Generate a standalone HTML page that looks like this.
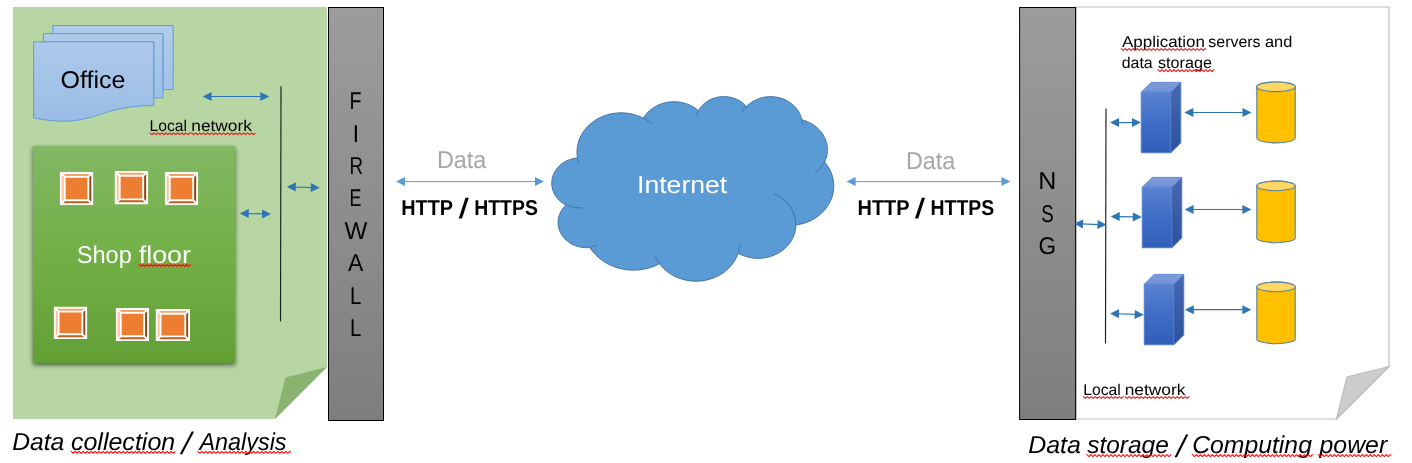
<!DOCTYPE html>
<html lang="en"><head><meta charset="utf-8"><title>Architecture diagram</title>
<style>
html,body{margin:0;padding:0;background:#fff;}
body{width:1412px;height:463px;overflow:hidden;}
svg{display:block;font-family:"Liberation Sans",sans-serif;will-change:transform;}
svg text{text-rendering:geometricPrecision;}
</style></head><body>
<svg width="1412" height="463" viewBox="0 0 1412 463">

<defs>
<linearGradient id="gFire" x1="0" y1="0" x2="0" y2="1"><stop offset="0" stop-color="#9c9c9c"/><stop offset="1" stop-color="#7e7e7e"/></linearGradient>
<linearGradient id="gShop" x1="0" y1="0" x2="0" y2="1"><stop offset="0" stop-color="#82b864"/><stop offset="0.5" stop-color="#72b046"/><stop offset="1" stop-color="#62a035"/></linearGradient>
<linearGradient id="gDoc" gradientUnits="userSpaceOnUse" x1="0" y1="25" x2="0" y2="122"><stop offset="0" stop-color="#b1cbea"/><stop offset="0.5" stop-color="#a6c4e8"/><stop offset="1" stop-color="#9abce4"/></linearGradient>
<linearGradient id="gCubeF" x1="0" y1="0" x2="0" y2="1"><stop offset="0" stop-color="#5a82d0"/><stop offset="0.5" stop-color="#3f6dc6"/><stop offset="1" stop-color="#3160b9"/></linearGradient>
<linearGradient id="gCubeS" x1="0" y1="0" x2="0" y2="1"><stop offset="0" stop-color="#4868b0"/><stop offset="1" stop-color="#2c519f"/></linearGradient>
<linearGradient id="gCubeT" x1="0" y1="0" x2="0" y2="1"><stop offset="0" stop-color="#7e9cdb"/><stop offset="1" stop-color="#7092d6"/></linearGradient>
<filter id="sh" x="-10%" y="-10%" width="120%" height="120%"><feGaussianBlur in="SourceAlpha" stdDeviation="2.6"/><feOffset dx="0" dy="2.2"/><feComponentTransfer><feFuncA type="linear" slope="0.6"/></feComponentTransfer><feMerge><feMergeNode/><feMergeNode in="SourceGraphic"/></feMerge></filter>
</defs>

<path d="M13,7 L327,7 L327,367 L275,419 L13,419 Z" fill="#b8d6a3"/>
<path d="M275,419 L285.4,377.4 L327,367 Z" fill="#89b36f"/>
<g fill="url(#gDoc)" stroke="#5f9cd7" stroke-width="1" stroke-linejoin="miter">
<path d="M52.81,33.57 L52.81,25.50 L173.20,25.50 L173.20,89.46 C168.03,89.46 162.86,89.80 162.86,89.80 L162.86,33.57 Z"/>
<path d="M43.50,41.83 L43.50,33.57 L162.86,33.57 L162.86,97.73 C158.32,97.73 153.78,98.18 153.78,98.18 L153.78,41.83 Z"/>
<path d="M33.60,117.86 C93.69,130.13 93.69,105.60 153.78,105.60 L153.78,41.83 L33.60,41.83 Z"/>
</g>
<text x="60.51" y="88.0" font-size="24.3" fill="#000" textLength="65.0" lengthAdjust="spacingAndGlyphs">Office</text>
<line x1="209.80" y1="96.50" x2="262.10" y2="96.50" stroke="#2e75b6" stroke-width="1.2"/>
<path d="M202.60,96.50 L211.60,101.00 L211.60,92.00 Z" fill="#2e75b6"/>
<path d="M269.30,96.50 L260.30,101.00 L260.30,92.00 Z" fill="#2e75b6"/>
<line x1="281" y1="86.3" x2="280.5" y2="321.5" stroke="#1c1c1c" stroke-width="1.15"/>
<text y="130.7" font-size="15.7" fill="#000"><tspan x="149.62" textLength="37.43" lengthAdjust="spacingAndGlyphs">Local</tspan> <tspan x="191.35" textLength="60.52" lengthAdjust="spacingAndGlyphs">network</tspan></text>
<path d="M149.90,132.80 L151.90,134.70 L153.90,132.80 L155.90,134.70 L157.90,132.80 L159.90,134.70 L161.90,132.80 L163.90,134.70 L165.90,132.80 L167.90,134.70 L169.90,132.80 L171.90,134.70 L173.90,132.80 L175.90,134.70 L177.90,132.80 L179.90,134.70 L181.90,132.80 L183.90,134.70 L185.90,132.80 L187.90,134.70 L189.90,132.80 L190.30,133.18" fill="none" stroke="#ff0a0a" stroke-width="1.05" stroke-linejoin="round" stroke-linecap="round"/>
<path d="M191.60,132.80 L193.60,134.70 L195.60,132.80 L197.60,134.70 L199.60,132.80 L201.60,134.70 L203.60,132.80 L205.60,134.70 L207.60,132.80 L209.60,134.70 L211.60,132.80 L213.60,134.70 L215.60,132.80 L217.60,134.70 L219.60,132.80 L221.60,134.70 L223.60,132.80 L225.60,134.70 L227.60,132.80 L229.60,134.70 L231.60,132.80 L233.60,134.70 L235.60,132.80 L237.60,134.70 L239.60,132.80 L241.60,134.70 L243.60,132.80 L245.60,134.70 L247.60,132.80 L249.60,134.70 L251.60,132.80 L253.60,134.70 L255.10,133.28" fill="none" stroke="#ff0a0a" stroke-width="1.05" stroke-linejoin="round" stroke-linecap="round"/>
<rect x="33" y="146" width="202" height="217" fill="url(#gShop)" filter="url(#sh)"/>
<g>
<path d="M60.85,172.95 L92.25,172.95 L88.35,176.85 L64.75,176.85 Z" fill="#f3a36c"/>
<path d="M60.85,172.95 L64.75,176.85 L64.75,200.25 L60.85,204.15 Z" fill="#f7c19c"/>
<path d="M92.25,172.95 L92.25,204.15 L88.35,200.25 L88.35,176.85 Z" fill="#8c4916"/>
<path d="M60.85,204.15 L64.75,200.25 L88.35,200.25 L92.25,204.15 Z" fill="#bc5e1c"/>
<path d="M64.75,176.85 H88.35 V200.25 H64.75 Z" fill="#ed7d31"/>
<path d="M60.85,172.95 H92.25 V204.15 H60.85 Z M64.75,176.85 H88.35 V200.25 H64.75 Z M60.85,172.95 L64.75,176.85 M92.25,172.95 L88.35,176.85 M60.85,204.15 L64.75,200.25 M92.25,204.15 L88.35,200.25" stroke="#fff" stroke-width="1.9" fill="none" stroke-linejoin="miter"/>
</g>
<g>
<path d="M115.75,171.85 L147.10,171.85 L143.18,175.77 L119.67,175.77 Z" fill="#f3a36c"/>
<path d="M115.75,171.85 L119.67,175.77 L119.67,199.38 L115.75,203.30 Z" fill="#f7c19c"/>
<path d="M147.10,171.85 L147.10,203.30 L143.18,199.38 L143.18,175.77 Z" fill="#8c4916"/>
<path d="M115.75,203.30 L119.67,199.38 L143.18,199.38 L147.10,203.30 Z" fill="#bc5e1c"/>
<path d="M119.67,175.77 H143.18 V199.38 H119.67 Z" fill="#ed7d31"/>
<path d="M115.75,171.85 H147.10 V203.30 H115.75 Z M119.67,175.77 H143.18 V199.38 H119.67 Z M115.75,171.85 L119.67,175.77 M147.10,171.85 L143.18,175.77 M115.75,203.30 L119.67,199.38 M147.10,203.30 L143.18,199.38" stroke="#fff" stroke-width="1.9" fill="none" stroke-linejoin="miter"/>
</g>
<g>
<path d="M165.85,172.95 L197.10,172.95 L193.20,176.85 L169.75,176.85 Z" fill="#f3a36c"/>
<path d="M165.85,172.95 L169.75,176.85 L169.75,200.25 L165.85,204.15 Z" fill="#f7c19c"/>
<path d="M197.10,172.95 L197.10,204.15 L193.20,200.25 L193.20,176.85 Z" fill="#8c4916"/>
<path d="M165.85,204.15 L169.75,200.25 L193.20,200.25 L197.10,204.15 Z" fill="#bc5e1c"/>
<path d="M169.75,176.85 H193.20 V200.25 H169.75 Z" fill="#ed7d31"/>
<path d="M165.85,172.95 H197.10 V204.15 H165.85 Z M169.75,176.85 H193.20 V200.25 H169.75 Z M165.85,172.95 L169.75,176.85 M197.10,172.95 L193.20,176.85 M165.85,204.15 L169.75,200.25 M197.10,204.15 L193.20,200.25" stroke="#fff" stroke-width="1.9" fill="none" stroke-linejoin="miter"/>
</g>
<g>
<path d="M54.80,307.80 L86.20,307.80 L82.41,311.59 L58.59,311.59 Z" fill="#f3a36c"/>
<path d="M54.80,307.80 L58.59,311.59 L58.59,334.31 L54.80,338.10 Z" fill="#f7c19c"/>
<path d="M86.20,307.80 L86.20,338.10 L82.41,334.31 L82.41,311.59 Z" fill="#8c4916"/>
<path d="M54.80,338.10 L58.59,334.31 L82.41,334.31 L86.20,338.10 Z" fill="#bc5e1c"/>
<path d="M58.59,311.59 H82.41 V334.31 H58.59 Z" fill="#ed7d31"/>
<path d="M54.80,307.80 H86.20 V338.10 H54.80 Z M58.59,311.59 H82.41 V334.31 H58.59 Z M54.80,307.80 L58.59,311.59 M86.20,307.80 L82.41,311.59 M54.80,338.10 L58.59,334.31 M86.20,338.10 L82.41,334.31" stroke="#fff" stroke-width="1.9" fill="none" stroke-linejoin="miter"/>
</g>
<g>
<path d="M116.85,308.95 L148.05,308.95 L144.15,312.85 L120.75,312.85 Z" fill="#f3a36c"/>
<path d="M116.85,308.95 L120.75,312.85 L120.75,336.25 L116.85,340.15 Z" fill="#f7c19c"/>
<path d="M148.05,308.95 L148.05,340.15 L144.15,336.25 L144.15,312.85 Z" fill="#8c4916"/>
<path d="M116.85,340.15 L120.75,336.25 L144.15,336.25 L148.05,340.15 Z" fill="#bc5e1c"/>
<path d="M120.75,312.85 H144.15 V336.25 H120.75 Z" fill="#ed7d31"/>
<path d="M116.85,308.95 H148.05 V340.15 H116.85 Z M120.75,312.85 H144.15 V336.25 H120.75 Z M116.85,308.95 L120.75,312.85 M148.05,308.95 L144.15,312.85 M116.85,340.15 L120.75,336.25 M148.05,340.15 L144.15,336.25" stroke="#fff" stroke-width="1.9" fill="none" stroke-linejoin="miter"/>
</g>
<g>
<path d="M156.75,309.95 L189.05,309.95 L185.28,313.72 L160.53,313.72 Z" fill="#f3a36c"/>
<path d="M156.75,309.95 L160.53,313.72 L160.53,336.38 L156.75,340.15 Z" fill="#f7c19c"/>
<path d="M189.05,309.95 L189.05,340.15 L185.28,336.38 L185.28,313.72 Z" fill="#8c4916"/>
<path d="M156.75,340.15 L160.53,336.38 L185.28,336.38 L189.05,340.15 Z" fill="#bc5e1c"/>
<path d="M160.53,313.72 H185.28 V336.38 H160.53 Z" fill="#ed7d31"/>
<path d="M156.75,309.95 H189.05 V340.15 H156.75 Z M160.53,313.72 H185.28 V336.38 H160.53 Z M156.75,309.95 L160.53,313.72 M189.05,309.95 L185.28,313.72 M156.75,340.15 L160.53,336.38 M189.05,340.15 L185.28,336.38" stroke="#fff" stroke-width="1.9" fill="none" stroke-linejoin="miter"/>
</g>
<text y="262.6" font-size="24.3" fill="#fff"><tspan x="76.76" textLength="55.03" lengthAdjust="spacingAndGlyphs">Shop</tspan> <tspan x="138.68" textLength="52.37" lengthAdjust="spacingAndGlyphs">floor</tspan></text>
<path d="M138.60,264.45 L140.60,266.35 L142.60,264.45 L144.60,266.35 L146.60,264.45 L148.60,266.35 L150.60,264.45 L152.60,266.35 L154.60,264.45 L156.60,266.35 L158.60,264.45 L160.60,266.35 L162.60,264.45 L164.60,266.35 L166.60,264.45 L168.60,266.35 L170.60,264.45 L172.60,266.35 L174.60,264.45 L176.60,266.35 L178.60,264.45 L180.60,266.35 L182.60,264.45 L184.60,266.35 L186.60,264.45 L188.60,266.35 L190.60,264.45" fill="none" stroke="#ff0a0a" stroke-width="1.05" stroke-linejoin="round" stroke-linecap="round"/>
<line x1="247.00" y1="213.56" x2="263.80" y2="213.94" stroke="#2e75b6" stroke-width="1.2"/>
<path d="M239.80,213.40 L248.70,218.10 L248.90,209.10 Z" fill="#2e75b6"/>
<path d="M271.00,214.10 L261.90,218.40 L262.10,209.40 Z" fill="#2e75b6"/>
<line x1="294.00" y1="187.02" x2="312.60" y2="187.58" stroke="#2e75b6" stroke-width="1.2"/>
<path d="M286.80,186.80 L295.66,191.57 L295.93,182.57 Z" fill="#2e75b6"/>
<path d="M319.80,187.80 L310.67,192.03 L310.94,183.03 Z" fill="#2e75b6"/>
<rect x="328.5" y="7.5" width="55" height="413" fill="url(#gFire)" stroke="#000" stroke-width="1"/>
<text x="349.39" y="109.3" font-size="24.3" fill="#000" textLength="12.0" lengthAdjust="spacingAndGlyphs">F</text>
<text x="352.87" y="141.7" font-size="24.3" fill="#000" textLength="6.26" lengthAdjust="spacingAndGlyphs">I</text>
<text x="349.47" y="174.1" font-size="24.3" fill="#000" textLength="13.5" lengthAdjust="spacingAndGlyphs">R</text>
<text x="349.53" y="206.4" font-size="24.3" fill="#000" textLength="11.94" lengthAdjust="spacingAndGlyphs">E</text>
<text x="344.49" y="239.0" font-size="24.3" fill="#000" textLength="22.89" lengthAdjust="spacingAndGlyphs">W</text>
<text x="348.06" y="271.3" font-size="24.3" fill="#000" textLength="15.29" lengthAdjust="spacingAndGlyphs">A</text>
<text x="349.93" y="303.8" font-size="24.3" fill="#000" textLength="11.35" lengthAdjust="spacingAndGlyphs">L</text>
<text x="349.93" y="336.1" font-size="24.3" fill="#000" textLength="11.35" lengthAdjust="spacingAndGlyphs">L</text>
<text x="436.98" y="167.95" font-size="24.4" fill="#a6a6a6" textLength="49.42" lengthAdjust="spacingAndGlyphs">Data</text>
<line x1="403.20" y1="181.60" x2="536.80" y2="181.60" stroke="#5b9bd5" stroke-width="1.0"/>
<path d="M396.00,181.60 L405.00,186.10 L405.00,177.10 Z" fill="#5b9bd5"/>
<path d="M544.00,181.60 L535.00,186.10 L535.00,177.10 Z" fill="#5b9bd5"/>
<text x="401.27" y="214.8" font-size="21.5" fill="#000" font-weight="bold" textLength="51.81" lengthAdjust="spacingAndGlyphs">HTTP</text>
<text transform="translate(458.40,218.14) skewX(-7.63)" font-size="28.07" fill="#000" font-weight="bold">/</text>
<text x="474.2" y="214.8" font-size="21.5" fill="#000" font-weight="bold" textLength="63.66" lengthAdjust="spacingAndGlyphs">HTTPS</text>
<path d="M577.42,157.37 L577.16,155.19 L577.03,153.00 L577.04,150.81 L577.19,148.62 L577.48,146.44 L577.90,144.28 L578.46,142.14 L579.15,140.03 L579.97,137.97 L580.91,135.94 L581.99,133.97 L583.18,132.05 L584.50,130.20 L585.93,128.41 L587.47,126.70 L589.11,125.07 L590.85,123.52 L592.69,122.06 L594.61,120.69 L596.62,119.42 L598.71,118.26 L600.86,117.20 L603.08,116.25 L605.35,115.41 L607.67,114.69 L610.04,114.08 L612.44,113.59 L614.86,113.22 L617.31,112.97 L619.76,112.85 L622.22,112.85 L624.68,112.97 L627.13,113.21 L629.55,113.57 L631.95,114.06 L634.32,114.66 L636.64,115.38 L638.92,116.21 L641.14,117.16 L643.29,118.22 L644.08,116.96 L644.94,115.73 L645.86,114.55 L646.84,113.40 L647.88,112.29 L648.97,111.23 L650.12,110.22 L651.32,109.25 L652.57,108.33 L653.87,107.47 L655.20,106.66 L656.58,105.91 L658.00,105.22 L659.45,104.59 L660.94,104.01 L662.45,103.50 L663.99,103.05 L665.54,102.67 L667.12,102.35 L668.71,102.10 L670.32,101.91 L671.93,101.80 L673.54,101.74 L675.16,101.76 L676.77,101.84 L678.38,101.99 L679.98,102.20 L681.56,102.48 L683.13,102.83 L684.68,103.24 L686.21,103.72 L687.71,104.26 L689.18,104.86 L690.61,105.52 L692.02,106.24 L693.38,107.01 L694.70,107.85 L695.97,108.73 L697.20,109.67 L698.38,110.66 L699.06,109.52 L699.80,108.42 L700.60,107.35 L701.46,106.32 L702.38,105.32 L703.35,104.37 L704.38,103.47 L705.45,102.61 L706.58,101.81 L707.75,101.05 L708.96,100.35 L710.20,99.71 L711.49,99.12 L712.80,98.59 L714.14,98.12 L715.51,97.71 L716.90,97.37 L718.31,97.09 L719.73,96.87 L721.16,96.71 L722.60,96.63 L724.04,96.60 L725.48,96.64 L726.92,96.75 L728.35,96.92 L729.76,97.16 L731.17,97.46 L732.55,97.82 L733.91,98.24 L735.25,98.73 L736.55,99.28 L737.83,99.88 L739.06,100.54 L740.26,101.26 L741.42,102.03 L742.53,102.85 L743.59,103.71 L744.60,104.63 L745.56,105.59 L746.47,106.60 L747.66,105.41 L748.93,104.29 L750.27,103.23 L751.67,102.24 L753.13,101.33 L754.65,100.49 L756.22,99.72 L757.83,99.04 L759.49,98.44 L761.18,97.92 L762.90,97.49 L764.65,97.15 L766.42,96.89 L768.20,96.72 L769.98,96.65 L771.77,96.66 L773.56,96.76 L775.33,96.96 L777.09,97.24 L778.83,97.61 L780.55,98.06 L782.23,98.60 L783.87,99.23 L785.48,99.94 L787.03,100.72 L788.53,101.58 L789.98,102.52 L791.36,103.53 L792.68,104.61 L793.93,105.75 L795.10,106.95 L796.20,108.21 L797.21,109.52 L798.14,110.88 L798.98,112.28 L799.73,113.73 L800.38,115.21 L800.95,116.72 L801.41,118.26 L801.78,119.81 L803.20,120.19 L804.61,120.62 L805.99,121.10 L807.35,121.64 L808.68,122.23 L809.99,122.87 L811.26,123.55 L812.50,124.29 L813.70,125.07 L814.86,125.89 L815.98,126.77 L817.06,127.68 L818.10,128.63 L819.09,129.62 L820.03,130.65 L820.92,131.71 L821.76,132.81 L822.54,133.94 L823.27,135.09 L823.95,136.28 L824.56,137.48 L825.12,138.71 L825.62,139.96 L826.06,141.23 L826.44,142.52 L826.76,143.81 L827.01,145.12 L827.20,146.44 L827.33,147.76 L827.40,149.09 L827.40,150.42 L827.34,151.74 L827.21,153.07 L827.02,154.38 L826.77,155.69 L826.46,156.99 L826.08,158.27 L825.65,159.54 L825.15,160.79 L824.59,162.03 L825.95,163.68 L827.20,165.40 L828.35,167.18 L829.40,169.01 L830.34,170.88 L831.17,172.79 L831.88,174.74 L832.49,176.72 L832.97,178.72 L833.34,180.75 L833.58,182.79 L833.71,184.84 L833.72,186.89 L833.61,188.94 L833.38,190.98 L833.03,193.00 L832.56,195.01 L831.98,197.00 L831.28,198.95 L830.47,200.87 L829.54,202.75 L828.51,204.58 L827.38,206.36 L826.14,208.09 L824.80,209.76 L823.36,211.36 L821.84,212.90 L820.22,214.36 L818.53,215.74 L816.75,217.05 L814.90,218.27 L812.98,219.40 L811.00,220.44 L808.96,221.39 L806.87,222.24 L804.73,223.00 L802.55,223.65 L800.33,224.20 L798.09,224.65 L795.82,224.99 L795.75,226.77 L795.58,228.55 L795.30,230.31 L794.91,232.06 L794.42,233.79 L793.83,235.49 L793.14,237.16 L792.35,238.80 L791.47,240.39 L790.49,241.95 L789.42,243.45 L788.26,244.90 L787.02,246.30 L785.70,247.63 L784.29,248.90 L782.82,250.11 L781.27,251.24 L779.67,252.29 L778.00,253.27 L776.27,254.17 L774.49,254.99 L772.67,255.72 L770.80,256.36 L768.90,256.92 L766.97,257.38 L765.02,257.75 L763.05,258.03 L761.06,258.22 L759.06,258.31 L757.06,258.31 L755.07,258.21 L753.08,258.02 L751.10,257.74 L749.15,257.36 L747.22,256.89 L745.32,256.33 L743.46,255.68 L741.64,254.95 L739.87,254.13 L738.14,253.22 L737.36,255.33 L736.44,257.39 L735.39,259.41 L734.22,261.37 L732.92,263.26 L731.51,265.09 L729.99,266.85 L728.35,268.52 L726.62,270.11 L724.78,271.61 L722.86,273.01 L720.84,274.32 L718.75,275.52 L716.59,276.61 L714.36,277.59 L712.08,278.46 L709.74,279.21 L707.36,279.85 L704.94,280.36 L702.49,280.75 L700.03,281.01 L697.55,281.15 L695.06,281.17 L692.58,281.05 L690.11,280.82 L687.66,280.46 L685.23,279.97 L682.84,279.37 L680.49,278.64 L678.19,277.80 L675.95,276.85 L673.77,275.78 L671.67,274.60 L669.64,273.32 L667.69,271.94 L665.83,270.46 L664.08,268.89 L662.42,267.24 L660.87,265.50 L659.43,263.69 L657.69,264.58 L655.92,265.41 L654.11,266.18 L652.26,266.88 L650.39,267.51 L648.49,268.08 L646.57,268.58 L644.63,269.01 L642.67,269.37 L640.69,269.66 L638.70,269.89 L636.71,270.04 L634.71,270.11 L632.70,270.12 L630.70,270.06 L628.71,269.92 L626.72,269.72 L624.74,269.44 L622.78,269.09 L620.83,268.68 L618.90,268.19 L617.00,267.64 L615.12,267.01 L613.27,266.33 L611.45,265.57 L609.67,264.76 L607.93,263.88 L606.22,262.94 L604.56,261.94 L602.95,260.88 L601.38,259.76 L599.86,258.59 L598.40,257.37 L597.00,256.09 L595.65,254.77 L594.36,253.40 L593.13,251.98 L591.97,250.52 L590.87,249.02 L589.84,247.49 L588.11,247.62 L586.38,247.66 L584.65,247.60 L582.92,247.45 L581.21,247.21 L579.52,246.88 L577.85,246.45 L576.22,245.94 L574.62,245.34 L573.07,244.65 L571.57,243.88 L570.13,243.03 L568.74,242.10 L567.42,241.10 L566.18,240.03 L565.00,238.89 L563.91,237.69 L562.90,236.44 L561.99,235.13 L561.16,233.78 L560.42,232.38 L559.79,230.95 L559.25,229.48 L558.81,227.99 L558.48,226.48 L558.25,224.95 L558.13,223.41 L558.11,221.87 L558.20,220.33 L558.39,218.80 L558.69,217.28 L559.09,215.78 L559.60,214.31 L560.20,212.86 L560.90,211.45 L561.70,210.08 L562.59,208.76 L563.57,207.49 L564.63,206.27 L565.78,205.11 L564.27,204.26 L562.83,203.33 L561.46,202.33 L560.16,201.24 L558.94,200.09 L557.80,198.86 L556.74,197.58 L555.79,196.24 L554.92,194.85 L554.16,193.41 L553.49,191.93 L552.94,190.42 L552.48,188.88 L552.14,187.32 L551.91,185.74 L551.79,184.15 L551.78,182.56 L551.88,180.97 L552.09,179.39 L552.41,177.82 L552.84,176.28 L553.38,174.76 L554.02,173.28 L554.77,171.83 L555.61,170.43 L556.55,169.08 L557.59,167.78 L558.71,166.55 L559.92,165.38 L561.20,164.28 L562.56,163.26 L563.99,162.31 L565.48,161.45 L567.03,160.67 L568.63,159.98 L570.28,159.38 L571.97,158.88 L573.68,158.47 L575.42,158.16 L577.19,157.95 Z" fill="#5b9bd5" stroke="#3d6d9e" stroke-width="0.95" stroke-linejoin="round"/>
<path d="M582.59,207.80 L581.16,207.86 L579.73,207.87 L578.29,207.80 L576.87,207.68 L575.45,207.48 L574.04,207.23 L572.66,206.91 L571.29,206.53 L569.94,206.08 L568.62,205.58 L567.33,205.01 L566.08,204.39" fill="none" stroke="#3d6d9e" stroke-width="0.95"/>
<path d="M597.16,245.05 L596.58,245.25 L595.99,245.44 L595.40,245.61 L594.81,245.78 L594.21,245.93 L593.61,246.07 L593.00,246.20 L592.39,246.32 L591.78,246.43 L591.17,246.52 L590.55,246.61 L589.94,246.68" fill="none" stroke="#3d6d9e" stroke-width="0.95"/>
<path d="M659.41,262.95 L658.98,262.36 L658.56,261.77 L658.16,261.17 L657.77,260.56 L657.38,259.95 L657.01,259.34 L656.66,258.71 L656.31,258.08 L655.98,257.45 L655.66,256.81 L655.35,256.16 L655.06,255.52" fill="none" stroke="#3d6d9e" stroke-width="0.95"/>
<path d="M739.91,244.42 L739.84,245.11 L739.75,245.79 L739.66,246.48 L739.54,247.17 L739.42,247.85 L739.28,248.53 L739.13,249.21 L738.96,249.89 L738.79,250.57 L738.59,251.24 L738.39,251.90 L738.17,252.57" fill="none" stroke="#3d6d9e" stroke-width="0.95"/>
<path d="M774.47,194.03 L777.57,195.54 L780.50,197.31 L783.23,199.31 L785.74,201.53 L788.01,203.94 L790.01,206.54 L791.73,209.29 L793.15,212.18 L794.27,215.17 L795.06,218.24 L795.53,221.36 L795.66,224.51" fill="none" stroke="#3d6d9e" stroke-width="0.95"/>
<path d="M824.46,161.57 L823.91,162.66 L823.31,163.73 L822.67,164.78 L821.99,165.80 L821.26,166.80 L820.48,167.78 L819.67,168.72 L818.82,169.64 L817.92,170.53 L816.99,171.39 L816.03,172.21 L815.02,173.00" fill="none" stroke="#3d6d9e" stroke-width="0.95"/>
<path d="M801.82,119.17 L801.90,119.62 L801.98,120.07 L802.05,120.51 L802.11,120.96 L802.17,121.41 L802.21,121.86 L802.25,122.31 L802.28,122.76 L802.30,123.21 L802.31,123.67 L802.32,124.12 L802.31,124.57" fill="none" stroke="#3d6d9e" stroke-width="0.95"/>
<path d="M741.55,112.88 L741.86,112.26 L742.19,111.65 L742.54,111.05 L742.91,110.45 L743.29,109.86 L743.68,109.28 L744.09,108.71 L744.52,108.15 L744.96,107.60 L745.42,107.05 L745.89,106.52 L746.38,106.00" fill="none" stroke="#3d6d9e" stroke-width="0.95"/>
<path d="M696.33,116.16 L696.46,115.65 L696.60,115.14 L696.76,114.63 L696.92,114.12 L697.10,113.62 L697.29,113.13 L697.49,112.63 L697.70,112.14 L697.93,111.65 L698.16,111.17 L698.41,110.70 L698.67,110.22" fill="none" stroke="#3d6d9e" stroke-width="0.95"/>
<path d="M643.26,118.17 L644.02,118.58 L644.78,119.00 L645.52,119.44 L646.25,119.89 L646.98,120.35 L647.69,120.82 L648.39,121.31 L649.09,121.81 L649.77,122.32 L650.43,122.85 L651.09,123.38 L651.73,123.93" fill="none" stroke="#3d6d9e" stroke-width="0.95"/>
<path d="M578.90,163.43 L578.74,162.94 L578.58,162.44 L578.43,161.94 L578.29,161.44 L578.16,160.93 L578.03,160.43 L577.91,159.92 L577.80,159.42 L577.69,158.91 L577.59,158.40 L577.51,157.89 L577.42,157.37" fill="none" stroke="#3d6d9e" stroke-width="0.95"/>
<text x="637.05" y="192.9" font-size="24.4" fill="#fff" textLength="90.15" lengthAdjust="spacingAndGlyphs">Internet</text>
<line x1="853.80" y1="181.60" x2="1003.20" y2="181.60" stroke="#5b9bd5" stroke-width="1.0"/>
<path d="M846.60,181.60 L855.60,186.10 L855.60,177.10 Z" fill="#5b9bd5"/>
<path d="M1010.40,181.60 L1001.40,186.10 L1001.40,177.10 Z" fill="#5b9bd5"/>
<text x="905.88" y="168.8" font-size="24.4" fill="#a6a6a6" textLength="49.32" lengthAdjust="spacingAndGlyphs">Data</text>
<text x="857.57" y="214.8" font-size="21.5" fill="#000" font-weight="bold" textLength="52.01" lengthAdjust="spacingAndGlyphs">HTTP</text>
<text transform="translate(914.70,218.14) skewX(-7.77)" font-size="28.07" fill="#000" font-weight="bold">/</text>
<text x="930.5" y="214.8" font-size="21.5" fill="#000" font-weight="bold" textLength="63.66" lengthAdjust="spacingAndGlyphs">HTTPS</text>
<path d="M1076,7 L1389,7 L1389,366.5 L1336.5,419 L1076,419 Z" fill="#ffffff" stroke="#bdbdbd" stroke-width="1.2" stroke-linejoin="miter"/>
<path d="M1336.5,419 L1347.0,377.0 L1389,366.5 Z" fill="#cdcdcd" stroke="#bdbdbd" stroke-width="1.2" stroke-linejoin="miter"/>
<rect x="1019.6" y="7.5" width="56" height="412" fill="url(#gFire)" stroke="#000" stroke-width="1"/>
<text x="1038.34" y="189.0" font-size="24.3" fill="#000" textLength="18.1" lengthAdjust="spacingAndGlyphs">N</text>
<text x="1041.26" y="221.5" font-size="24.3" fill="#000" textLength="12.4" lengthAdjust="spacingAndGlyphs">S</text>
<text x="1038.57" y="253.7" font-size="24.3" fill="#000" textLength="17.51" lengthAdjust="spacingAndGlyphs">G</text>
<text y="46.5" font-size="15.7" fill="#000"><tspan x="1121.97" textLength="82.93" lengthAdjust="spacingAndGlyphs">Application</tspan> <tspan x="1208.36" textLength="52.22" lengthAdjust="spacingAndGlyphs">servers</tspan> <tspan x="1265.0" textLength="27.35" lengthAdjust="spacingAndGlyphs">and</tspan></text>
<path d="M1121.20,48.55 L1123.20,50.45 L1125.20,48.55 L1127.20,50.45 L1129.20,48.55 L1131.20,50.45 L1133.20,48.55 L1135.20,50.45 L1137.20,48.55 L1139.20,50.45 L1141.20,48.55 L1143.20,50.45 L1145.20,48.55 L1147.20,50.45 L1149.20,48.55 L1151.20,50.45 L1153.20,48.55 L1155.20,50.45 L1157.20,48.55 L1159.20,50.45 L1161.20,48.55 L1163.20,50.45 L1165.20,48.55 L1167.20,50.45 L1169.20,48.55 L1171.20,50.45 L1173.20,48.55 L1175.20,50.45 L1177.20,48.55 L1179.20,50.45 L1181.20,48.55 L1183.20,50.45 L1185.20,48.55 L1187.20,50.45 L1189.20,48.55 L1191.20,50.45 L1193.20,48.55 L1195.20,50.45 L1197.20,48.55 L1199.20,50.45 L1201.20,48.55 L1203.20,50.45 L1205.20,48.55 L1205.80,49.12" fill="none" stroke="#ff0a0a" stroke-width="1.05" stroke-linejoin="round" stroke-linecap="round"/>
<text y="67.5" font-size="15.7" fill="#000"><tspan x="1121.73" textLength="30.97" lengthAdjust="spacingAndGlyphs">data</tspan> <tspan x="1158.05" textLength="53.87" lengthAdjust="spacingAndGlyphs">storage</tspan></text>
<path d="M1158.00,69.65 L1160.00,71.55 L1162.00,69.65 L1164.00,71.55 L1166.00,69.65 L1168.00,71.55 L1170.00,69.65 L1172.00,71.55 L1174.00,69.65 L1176.00,71.55 L1178.00,69.65 L1180.00,71.55 L1182.00,69.65 L1184.00,71.55 L1186.00,69.65 L1188.00,71.55 L1190.00,69.65 L1192.00,71.55 L1194.00,69.65 L1196.00,71.55 L1198.00,69.65 L1200.00,71.55 L1202.00,69.65 L1204.00,71.55 L1206.00,69.65 L1208.00,71.55 L1210.00,69.65 L1212.00,71.55 L1213.90,69.74" fill="none" stroke="#ff0a0a" stroke-width="1.05" stroke-linejoin="round" stroke-linecap="round"/>
<line x1="1106" y1="108.4" x2="1105.5" y2="343.5" stroke="#1c1c1c" stroke-width="1.15"/>
<path d="M1141.2,92.30000000000001 L1170.8999999999999,92.30000000000001 L1170.8999999999999,152.8 L1141.2,152.8 Z" fill="url(#gCubeF)"/>
<path d="M1141.2,92.30000000000001 L1151.1000000000001,82.4 L1180.8,82.4 L1170.8999999999999,92.30000000000001 Z" fill="url(#gCubeT)"/>
<path d="M1170.8999999999999,92.30000000000001 L1180.8,82.4 L1180.8,142.9 L1170.8999999999999,152.8 Z" fill="url(#gCubeS)"/>
<path d="M1141.2,92.30000000000001 L1151.1000000000001,82.4 L1180.8,82.4 L1180.8,142.9 L1170.8999999999999,152.8 L1141.2,152.8 Z M1141.2,92.30000000000001 L1170.8999999999999,92.30000000000001 L1180.8,82.4 M1170.8999999999999,92.30000000000001 L1170.8999999999999,152.8" fill="none" stroke="#4b7bd0" stroke-width="0.8" stroke-linejoin="round"/>
<path d="M1142.2,187.3 L1171.8999999999999,187.3 L1171.8999999999999,247.8 L1142.2,247.8 Z" fill="url(#gCubeF)"/>
<path d="M1142.2,187.3 L1152.1000000000001,177.4 L1181.8,177.4 L1171.8999999999999,187.3 Z" fill="url(#gCubeT)"/>
<path d="M1171.8999999999999,187.3 L1181.8,177.4 L1181.8,237.9 L1171.8999999999999,247.8 Z" fill="url(#gCubeS)"/>
<path d="M1142.2,187.3 L1152.1000000000001,177.4 L1181.8,177.4 L1181.8,237.9 L1171.8999999999999,247.8 L1142.2,247.8 Z M1142.2,187.3 L1171.8999999999999,187.3 L1181.8,177.4 M1171.8999999999999,187.3 L1171.8999999999999,247.8" fill="none" stroke="#4b7bd0" stroke-width="0.8" stroke-linejoin="round"/>
<path d="M1144.2,284.29999999999995 L1173.8999999999999,284.29999999999995 L1173.8999999999999,344.79999999999995 L1144.2,344.79999999999995 Z" fill="url(#gCubeF)"/>
<path d="M1144.2,284.29999999999995 L1154.1000000000001,274.4 L1183.8,274.4 L1173.8999999999999,284.29999999999995 Z" fill="url(#gCubeT)"/>
<path d="M1173.8999999999999,284.29999999999995 L1183.8,274.4 L1183.8,334.9 L1173.8999999999999,344.79999999999995 Z" fill="url(#gCubeS)"/>
<path d="M1144.2,284.29999999999995 L1154.1000000000001,274.4 L1183.8,274.4 L1183.8,334.9 L1173.8999999999999,344.79999999999995 L1144.2,344.79999999999995 Z M1144.2,284.29999999999995 L1173.8999999999999,284.29999999999995 L1183.8,274.4 M1173.8999999999999,284.29999999999995 L1173.8999999999999,344.79999999999995" fill="none" stroke="#4b7bd0" stroke-width="0.8" stroke-linejoin="round"/>
<path d="M1256.8,86.8 A19.2,4.8 0 0 1 1295.2,86.8 L1295.2,138.1 A19.2,4.8 0 0 1 1256.8,138.1 Z" fill="#ffc000" stroke="#56829f" stroke-width="1.1"/>
<ellipse cx="1276.0" cy="86.8" rx="19.2" ry="4.8" fill="#ffd864" stroke="#56829f" stroke-width="1.1"/>
<path d="M1256.8,185.9 A19.2,4.8 0 0 1 1295.2,185.9 L1295.2,237.89999999999998 A19.2,4.8 0 0 1 1256.8,237.89999999999998 Z" fill="#ffc000" stroke="#56829f" stroke-width="1.1"/>
<ellipse cx="1276.0" cy="185.9" rx="19.2" ry="4.8" fill="#ffd864" stroke="#56829f" stroke-width="1.1"/>
<path d="M1256.8,286.90000000000003 A19.2,4.8 0 0 1 1295.2,286.90000000000003 L1295.2,338.90000000000003 A19.2,4.8 0 0 1 1256.8,338.90000000000003 Z" fill="#ffc000" stroke="#56829f" stroke-width="1.1"/>
<ellipse cx="1276.0" cy="286.90000000000003" rx="19.2" ry="4.8" fill="#ffd864" stroke="#56829f" stroke-width="1.1"/>
<line x1="1117.20" y1="122.60" x2="1133.80" y2="122.60" stroke="#2e75b6" stroke-width="1.2"/>
<path d="M1110.00,122.60 L1119.00,127.10 L1119.00,118.10 Z" fill="#2e75b6"/>
<path d="M1141.00,122.60 L1132.00,127.10 L1132.00,118.10 Z" fill="#2e75b6"/>
<line x1="1191.50" y1="112.50" x2="1244.30" y2="112.50" stroke="#2e75b6" stroke-width="1.2"/>
<path d="M1184.30,112.50 L1193.30,117.00 L1193.30,108.00 Z" fill="#2e75b6"/>
<path d="M1251.50,112.50 L1242.50,117.00 L1242.50,108.00 Z" fill="#2e75b6"/>
<line x1="1081.20" y1="223.87" x2="1099.30" y2="224.53" stroke="#2e75b6" stroke-width="1.2"/>
<path d="M1074.00,223.60 L1082.83,228.43 L1083.16,219.44 Z" fill="#2e75b6"/>
<path d="M1106.50,224.80 L1097.34,228.96 L1097.67,219.97 Z" fill="#2e75b6"/>
<line x1="1117.90" y1="216.56" x2="1134.60" y2="216.94" stroke="#2e75b6" stroke-width="1.2"/>
<path d="M1110.70,216.40 L1119.60,221.10 L1119.80,212.10 Z" fill="#2e75b6"/>
<path d="M1141.80,217.10 L1132.70,221.40 L1132.90,212.40 Z" fill="#2e75b6"/>
<line x1="1191.80" y1="209.50" x2="1244.20" y2="209.50" stroke="#2e75b6" stroke-width="1.2"/>
<path d="M1184.60,209.50 L1193.60,214.00 L1193.60,205.00 Z" fill="#2e75b6"/>
<path d="M1251.40,209.50 L1242.40,214.00 L1242.40,205.00 Z" fill="#2e75b6"/>
<line x1="1117.20" y1="313.76" x2="1136.50" y2="314.44" stroke="#2e75b6" stroke-width="1.2"/>
<path d="M1110.00,313.50 L1118.83,318.32 L1119.15,309.32 Z" fill="#2e75b6"/>
<path d="M1143.70,314.70 L1134.55,318.88 L1134.87,309.88 Z" fill="#2e75b6"/>
<line x1="1192.00" y1="309.70" x2="1244.20" y2="309.70" stroke="#2e75b6" stroke-width="1.2"/>
<path d="M1184.80,309.70 L1193.80,314.20 L1193.80,305.20 Z" fill="#2e75b6"/>
<path d="M1251.40,309.70 L1242.40,314.20 L1242.40,305.20 Z" fill="#2e75b6"/>
<text y="394.6" font-size="15.7" fill="#000"><tspan x="1083.21" textLength="37.49" lengthAdjust="spacingAndGlyphs">Local</tspan> <tspan x="1124.65" textLength="60.83" lengthAdjust="spacingAndGlyphs">network</tspan></text>
<path d="M1083.30,396.55 L1085.30,398.45 L1087.30,396.55 L1089.30,398.45 L1091.30,396.55 L1093.30,398.45 L1095.30,396.55 L1097.30,398.45 L1099.30,396.55 L1101.30,398.45 L1103.30,396.55 L1105.30,398.45 L1107.30,396.55 L1109.30,398.45 L1111.30,396.55 L1113.30,398.45 L1115.30,396.55 L1117.30,398.45 L1119.30,396.55 L1121.30,398.45 L1123.30,396.55" fill="none" stroke="#ff0a0a" stroke-width="1.05" stroke-linejoin="round" stroke-linecap="round"/>
<path d="M1125.20,396.55 L1127.20,398.45 L1129.20,396.55 L1131.20,398.45 L1133.20,396.55 L1135.20,398.45 L1137.20,396.55 L1139.20,398.45 L1141.20,396.55 L1143.20,398.45 L1145.20,396.55 L1147.20,398.45 L1149.20,396.55 L1151.20,398.45 L1153.20,396.55 L1155.20,398.45 L1157.20,396.55 L1159.20,398.45 L1161.20,396.55 L1163.20,398.45 L1165.20,396.55 L1167.20,398.45 L1169.20,396.55 L1171.20,398.45 L1173.20,396.55 L1175.20,398.45 L1177.20,396.55 L1179.20,398.45 L1181.20,396.55 L1183.20,398.45 L1185.20,396.55 L1187.20,398.45 L1189.20,396.55" fill="none" stroke="#ff0a0a" stroke-width="1.05" stroke-linejoin="round" stroke-linecap="round"/>
<text y="449.8" font-size="24.4" fill="#000" font-style="italic"><tspan x="12.24" textLength="52.1" lengthAdjust="spacingAndGlyphs">Data</tspan> <tspan x="70.93" textLength="104.3" lengthAdjust="spacingAndGlyphs">collection</tspan></text>
<text transform="translate(181.58,453.70) skewX(-3.23)" font-size="31.18" fill="#000" font-style="italic">/</text>
<text x="199.45" y="449.8" font-size="24.4" fill="#000" font-style="italic" textLength="87.13" lengthAdjust="spacingAndGlyphs">Analysis</text>
<path d="M71.20,451.35 L73.20,453.25 L75.20,451.35 L77.20,453.25 L79.20,451.35 L81.20,453.25 L83.20,451.35 L85.20,453.25 L87.20,451.35 L89.20,453.25 L91.20,451.35 L93.20,453.25 L95.20,451.35 L97.20,453.25 L99.20,451.35 L101.20,453.25 L103.20,451.35 L105.20,453.25 L107.20,451.35 L109.20,453.25 L111.20,451.35 L113.20,453.25 L115.20,451.35 L117.20,453.25 L119.20,451.35 L121.20,453.25 L123.20,451.35 L125.20,453.25 L127.20,451.35 L129.20,453.25 L131.20,451.35 L133.20,453.25 L135.20,451.35 L137.20,453.25 L139.20,451.35 L141.20,453.25 L143.20,451.35 L145.20,453.25 L147.20,451.35 L149.20,453.25 L151.20,451.35 L153.20,453.25 L155.20,451.35 L157.20,453.25 L159.20,451.35 L161.20,453.25 L163.20,451.35 L165.20,453.25 L167.20,451.35 L169.20,453.25 L171.20,451.35 L173.20,453.25 L174.90,451.63" fill="none" stroke="#ff0a0a" stroke-width="1.05" stroke-linejoin="round" stroke-linecap="round"/>
<path d="M197.80,451.35 L199.80,453.25 L201.80,451.35 L203.80,453.25 L205.80,451.35 L207.80,453.25 L209.80,451.35 L211.80,453.25 L213.80,451.35 L215.80,453.25 L217.80,451.35 L219.80,453.25 L221.80,451.35 L223.80,453.25 L225.80,451.35 L227.80,453.25 L229.80,451.35 L231.80,453.25 L233.80,451.35 L235.80,453.25 L237.80,451.35 L239.80,453.25 L241.80,451.35 L243.80,453.25 L245.80,451.35 L247.80,453.25 L249.80,451.35 L251.80,453.25 L253.80,451.35 L255.80,453.25 L257.80,451.35 L259.80,453.25 L261.80,451.35 L263.80,453.25 L265.80,451.35 L267.80,453.25 L269.80,451.35 L271.80,453.25 L273.80,451.35 L275.80,453.25 L277.80,451.35 L279.80,453.25 L281.80,451.35 L283.80,453.25 L285.80,451.35 L287.80,453.25 L289.80,451.35 L290.40,451.92" fill="none" stroke="#ff0a0a" stroke-width="1.05" stroke-linejoin="round" stroke-linecap="round"/>
<text y="452.8" font-size="24.4" fill="#000" font-style="italic"><tspan x="1028.23" textLength="52.72" lengthAdjust="spacingAndGlyphs">Data</tspan> <tspan x="1087.24" textLength="81.57" lengthAdjust="spacingAndGlyphs">storage</tspan></text>
<text transform="translate(1176.17,456.70) skewX(-2.13)" font-size="31.05" fill="#000" font-style="italic">/</text>
<text y="452.8" font-size="24.4" fill="#000" font-style="italic"><tspan x="1192.23" textLength="119.68" lengthAdjust="spacingAndGlyphs">Computing</tspan> <tspan x="1319.52" textLength="67.64" lengthAdjust="spacingAndGlyphs">power</tspan></text>
<path d="M1086.90,454.65 L1088.90,456.55 L1090.90,454.65 L1092.90,456.55 L1094.90,454.65 L1096.90,456.55 L1098.90,454.65 L1100.90,456.55 L1102.90,454.65 L1104.90,456.55 L1106.90,454.65 L1108.90,456.55 L1110.90,454.65 L1112.90,456.55 L1114.90,454.65 L1116.90,456.55 L1118.90,454.65 L1120.90,456.55 L1122.90,454.65 L1124.90,456.55 L1126.90,454.65 L1128.90,456.55 L1130.90,454.65 L1132.90,456.55 L1134.90,454.65 L1136.90,456.55 L1138.90,454.65 L1140.90,456.55 L1142.90,454.65 L1144.90,456.55 L1146.90,454.65 L1148.90,456.55 L1150.90,454.65 L1152.90,456.55 L1154.90,454.65 L1156.90,456.55 L1158.90,454.65 L1160.90,456.55 L1162.90,454.65 L1164.90,456.55 L1166.90,454.65 L1168.90,456.55 L1170.80,454.75" fill="none" stroke="#ff0a0a" stroke-width="1.05" stroke-linejoin="round" stroke-linecap="round"/>
<path d="M1192.40,454.65 L1194.40,456.55 L1196.40,454.65 L1198.40,456.55 L1200.40,454.65 L1202.40,456.55 L1204.40,454.65 L1206.40,456.55 L1208.40,454.65 L1210.40,456.55 L1212.40,454.65 L1214.40,456.55 L1216.40,454.65 L1218.40,456.55 L1220.40,454.65 L1222.40,456.55 L1224.40,454.65 L1226.40,456.55 L1228.40,454.65 L1230.40,456.55 L1232.40,454.65 L1234.40,456.55 L1236.40,454.65 L1238.40,456.55 L1240.40,454.65 L1242.40,456.55 L1244.40,454.65 L1246.40,456.55 L1248.40,454.65 L1250.40,456.55 L1252.40,454.65 L1254.40,456.55 L1256.40,454.65 L1258.40,456.55 L1260.40,454.65 L1262.40,456.55 L1264.40,454.65 L1266.40,456.55 L1268.40,454.65 L1270.40,456.55 L1272.40,454.65 L1274.40,456.55 L1276.40,454.65 L1278.40,456.55 L1280.40,454.65 L1282.40,456.55 L1284.40,454.65 L1286.40,456.55 L1288.40,454.65 L1290.40,456.55 L1292.40,454.65 L1294.40,456.55 L1296.40,454.65 L1298.40,456.55 L1300.40,454.65 L1302.40,456.55 L1304.40,454.65 L1306.40,456.55 L1308.40,454.65 L1310.40,456.55 L1312.40,454.65" fill="none" stroke="#ff0a0a" stroke-width="1.05" stroke-linejoin="round" stroke-linecap="round"/>
<path d="M1318.30,454.65 L1320.30,456.55 L1322.30,454.65 L1324.30,456.55 L1326.30,454.65 L1328.30,456.55 L1330.30,454.65 L1332.30,456.55 L1334.30,454.65 L1336.30,456.55 L1338.30,454.65 L1340.30,456.55 L1342.30,454.65 L1344.30,456.55 L1346.30,454.65 L1348.30,456.55 L1350.30,454.65 L1352.30,456.55 L1354.30,454.65 L1356.30,456.55 L1358.30,454.65 L1360.30,456.55 L1362.30,454.65 L1364.30,456.55 L1366.30,454.65 L1368.30,456.55 L1370.30,454.65 L1372.30,456.55 L1374.30,454.65 L1376.30,456.55 L1378.30,454.65 L1380.30,456.55 L1382.30,454.65 L1384.30,456.55 L1386.30,454.65 L1388.30,456.55 L1390.30,454.65 L1390.70,455.03" fill="none" stroke="#ff0a0a" stroke-width="1.05" stroke-linejoin="round" stroke-linecap="round"/>
</svg>
</body></html>
